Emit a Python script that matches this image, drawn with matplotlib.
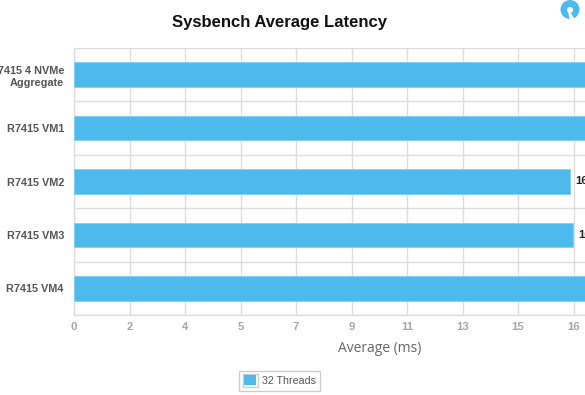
import matplotlib
matplotlib.use("Agg")
import matplotlib.pyplot as plt
from matplotlib.patches import Circle, Rectangle, Polygon

categories = ["R7415 4 NVMe\nAggregate", "R7415 VM1", "R7415 VM2", "R7415 VM3", "R7415 VM4"]
values = [17.0, 17.0, 16.27, 16.37, 17.0]
tick_values = [0, 1.82, 3.64, 5.46, 7.28, 9.10, 10.92, 12.74, 14.56, 16.38]
tick_labels = ["0", "2", "4", "5", "7", "9", "11", "13", "15", "16"]
series_name = "32 Threads"
title = "Sysbench Average Latency"
x_title = "Average (ms)"

W, H = 585, 395
BLUE = "#4DBAEE"
plt.rcParams["font.family"] = ["Liberation Sans", "DejaVu Sans"]
fig = plt.figure(figsize=(W / 100, H / 100), dpi=100)
L, R, T, B = 74, 585, 48, 315
ax = fig.add_axes([L / W, 1 - B / H, (R - L) / W, (B - T) / H])
xmax = (R - L) / 55.5 * 1.82
ax.set_xlim(0, xmax)
ax.set_ylim(len(categories), 0)

ypos = [i + 0.5 for i in range(len(categories))]
ax.barh(ypos, values, height=0.46, color=BLUE, edgecolor="#7FD0F5", linewidth=0.6, zorder=3)
for y, v in zip(ypos, values):
    if v < xmax:  # labels of the longer bars fall past the picture's edge
        ax.text(v + 0.16, y, f"{v:.2f}", va="center", ha="left", fontsize=8.2,
                fontweight="bold", color="#222222", clip_on=True)

ax.set_xticks(tick_values)
ax.set_xticklabels(tick_labels, fontsize=8.2, fontweight="bold", color="#a6a6a6")
ax.set_yticks(ypos)
ax.set_yticklabels(categories, fontsize=7.8, fontweight="bold", color="#555555",
                   linespacing=1.25, ha="right", multialignment="right")
ax.tick_params(axis="x", length=0, pad=5)
ax.tick_params(axis="y", length=0, pad=7.2)
ax.set_yticks(range(len(categories) + 1), minor=True)
ax.tick_params(axis="y", which="minor", length=0)
ax.grid(axis="x", color="#dddddd", linewidth=1, zorder=1)
ax.grid(axis="y", which="minor", color="#dddddd", linewidth=1, zorder=1)
ax.grid(axis="y", which="major", visible=False)
ax.set_axisbelow(True)
for s in ["top", "right"]:
    ax.spines[s].set_visible(False)
for s in ["left", "bottom"]:
    ax.spines[s].set_color("#dddddd")
    ax.spines[s].set_linewidth(1)

fig.text(279.5 / W, 1 - 22.5 / H, title, ha="center", va="center", fontsize=12,
         fontweight="bold", color="#111111")
fig.text(379.5 / W, 1 - 349 / H, x_title, ha="center", va="center", fontsize=10,
         color="#666666", family="Open Sans")

# legend box
fig.add_artist(Rectangle((238.5 / W, 1 - 390.5 / H), 81 / W, 20 / H, transform=fig.transFigure,
                         facecolor="white", edgecolor="#cccccc", linewidth=1))
fig.add_artist(Rectangle((242.5 / W, 1 - 386.5 / H), 15 / W, 13 / H, transform=fig.transFigure,
                         facecolor="white", edgecolor="#cccccc", linewidth=1))
fig.add_artist(Rectangle((244 / W, 1 - 385 / H), 12 / W, 10 / H, transform=fig.transFigure,
                         facecolor=BLUE, edgecolor="none"))
fig.text(262 / W, 1 - 380.5 / H, series_name, ha="left", va="center", fontsize=7.7, color="#555555")

# logo
lax = fig.add_axes([0, 0, 1, 1], facecolor="none")
lax.set_xlim(0, W); lax.set_ylim(H, 0); lax.axis("off")
lax.add_patch(Circle((570, 9.5), 9.5, facecolor=BLUE, edgecolor="none"))
lax.add_patch(Circle((570, 10), 3, facecolor="white", edgecolor="none"))
lax.add_patch(Polygon([(568, 11), (571, 13), (574.5, 19.5), (569.5, 19.5)], facecolor="white", edgecolor="none"))

fig.savefig("out.png", dpi=100)
